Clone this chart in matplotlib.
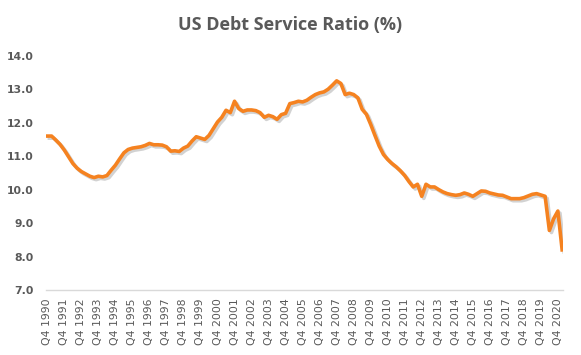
import matplotlib.pyplot as plt
import matplotlib.patheffects as pe
import numpy as np

# quarterly debt service ratio, Q4 1990 .. Q1 2021
dsr = [11.60, 11.60, 11.48, 11.35, 11.18, 10.98, 10.78, 10.64, 10.54, 10.47,
       10.40, 10.36, 10.40, 10.38, 10.42, 10.58, 10.73, 10.92, 11.10, 11.20,
       11.24, 11.26, 11.28, 11.32, 11.38, 11.34, 11.34, 11.33, 11.28, 11.15,
       11.16, 11.14, 11.24, 11.30, 11.45, 11.58, 11.54, 11.50, 11.62, 11.82,
       12.02, 12.16, 12.37, 12.30, 12.64, 12.42, 12.34, 12.38, 12.38, 12.36,
       12.30, 12.16, 12.22, 12.18, 12.10, 12.24, 12.28, 12.57, 12.60, 12.64,
       12.62, 12.67, 12.76, 12.84, 12.89, 12.92, 13.00, 13.12, 13.25, 13.17,
       12.84, 12.88, 12.84, 12.74, 12.40, 12.25, 11.95, 11.62, 11.30, 11.05,
       10.90, 10.78, 10.68, 10.56, 10.42, 10.24, 10.08, 10.16, 9.80, 10.16,
       10.08, 10.08, 10.00, 9.93, 9.88, 9.85, 9.83, 9.85, 9.90, 9.86,
       9.80, 9.88, 9.96, 9.95, 9.90, 9.87, 9.84, 9.83, 9.78, 9.73,
       9.73, 9.73, 9.76, 9.81, 9.86, 9.88, 9.84, 9.80, 8.78, 9.13,
       9.36, 8.20]

years = list(range(1990, 2021))
tick_labels = ["Q4 %d" % y for y in years]
y_ticks = [7.0, 8.0, 9.0, 10.0, 11.0, 12.0, 13.0, 14.0]

x = np.arange(len(dsr))

fig = plt.figure(figsize=(5.81, 3.55), dpi=100)
ax = fig.add_axes([0.080, 0.183, 0.889, 0.660])

ax.plot(x, dsr, color='#F58220', linewidth=2.6, solid_joinstyle='round',
        path_effects=[pe.SimpleLineShadow(offset=(1.5, -1.5), shadow_color='#7f7f7f', alpha=0.35),
                      pe.Normal()])

ax.set_ylim(7, 14)
ax.set_yticks(y_ticks)
ax.set_yticklabels(["%.1f" % v for v in y_ticks], fontsize=7.8, fontweight='bold', color='#595959')
ax.set_xlim(-0.2, 121.2)
ax.set_xticks(x[::4])
ax.set_xticklabels(tick_labels, rotation=90, fontsize=7.8, color='#595959')
ax.tick_params(axis='both', length=0)
ax.tick_params(axis='y', pad=9)
ax.tick_params(axis='x', pad=6)

for s in ['top', 'right', 'left']:
    ax.spines[s].set_visible(False)
ax.spines['bottom'].set_color('#D9D9D9')
ax.spines['bottom'].set_linewidth(1.0)

fig.text(0.5, 0.93, "US Debt Service Ratio (%)", ha='center', va='center',
         fontsize=13, fontweight='bold', color='#595959', family='Open Sans')

fig.savefig("out.png", dpi=100)
